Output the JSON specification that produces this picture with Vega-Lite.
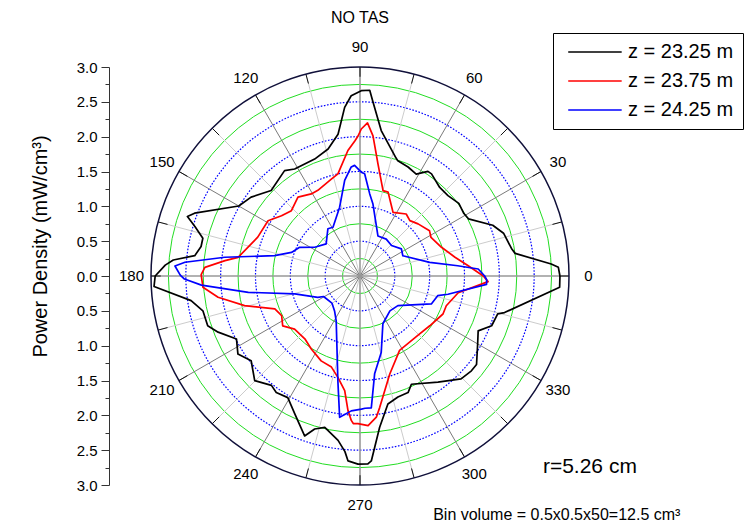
{
  "$schema": "https://vega.github.io/schema/vega-lite/v6.json",
  "width": 418,
  "height": 418,
  "autosize": {"type": "none"},
  "padding": {"left": 151, "top": 67, "right": 184, "bottom": 40},
  "background": "white",
  "config": {"view": {"stroke": null}, "font": "Liberation Sans"},
  "title": {"text": "NO TAS", "fontSize": 16, "fontWeight": "normal", "color": "#000", "font": "Liberation Sans", "anchor": "middle", "offset": 7},
  "resolve": {"axis": {"y": "independent", "x": "independent"}},
  "layer": [
    {
      "data": {"values": [{"r": 0.25}, {"r": 0.75}, {"r": 1.25}, {"r": 1.75}, {"r": 2.25}, {"r": 2.75}]},
      "mark": {"type": "point", "shape": "circle", "filled": false, "stroke": "#22dd22", "strokeWidth": 1, "opacity": 1},
      "encoding": {
        "x": {"datum": 0, "type": "quantitative", "scale": {"domain": [-3, 3], "nice": false, "zero": false}, "axis": null},
        "y": {"datum": 0, "type": "quantitative", "scale": {"domain": [-3, 3], "nice": false, "zero": false}, "axis": null},
        "size": {"field": "r", "type": "quantitative", "scale": {"type": "pow", "exponent": 2, "domain": [0, 3], "range": [0, 174724]}, "legend": null}
      }
    },
    {
      "data": {"values": [{"r": 0.5}, {"r": 1.0}, {"r": 1.5}, {"r": 2.0}, {"r": 2.5}]},
      "mark": {"type": "point", "shape": "circle", "filled": false, "stroke": "#0000ff", "strokeWidth": 1.2, "strokeDash": [1.6, 1.6], "opacity": 1},
      "encoding": {
        "x": {"datum": 0, "type": "quantitative", "scale": {"domain": [-3, 3], "nice": false, "zero": false}, "axis": null},
        "y": {"datum": 0, "type": "quantitative", "scale": {"domain": [-3, 3], "nice": false, "zero": false}, "axis": null},
        "size": {"field": "r", "type": "quantitative", "scale": {"type": "pow", "exponent": 2, "domain": [0, 3], "range": [0, 174724]}, "legend": null}
      }
    },
    {
      "data": {"values": [{"a": 15}, {"a": 45}, {"a": 75}, {"a": 105}, {"a": 135}, {"a": 165}, {"a": 195}, {"a": 225}, {"a": 255}, {"a": 285}, {"a": 315}, {"a": 345}]},
      "transform": [
        {"calculate": "0", "as": "x1"},
        {"calculate": "0", "as": "y1"},
        {"calculate": "3*cos(datum.a*PI/180)", "as": "x2"},
        {"calculate": "3*sin(datum.a*PI/180)", "as": "y2"}
      ],
      "mark": {"type": "rule", "stroke": "#cccccc", "strokeWidth": 1},
      "encoding": {
        "x": {"field": "x1", "type": "quantitative", "scale": {"domain": [-3, 3], "nice": false, "zero": false}, "axis": null},
        "y": {"field": "y1", "type": "quantitative", "scale": {"domain": [-3, 3], "nice": false, "zero": false}, "axis": null},
        "x2": {"field": "x2"},
        "y2": {"field": "y2"}
      }
    },
    {
      "data": {"values": [{"a": 30}, {"a": 60}, {"a": 120}, {"a": 150}, {"a": 210}, {"a": 240}, {"a": 300}, {"a": 330}]},
      "transform": [
        {"calculate": "0", "as": "x1"},
        {"calculate": "0", "as": "y1"},
        {"calculate": "3*cos(datum.a*PI/180)", "as": "x2"},
        {"calculate": "3*sin(datum.a*PI/180)", "as": "y2"}
      ],
      "mark": {"type": "rule", "stroke": "#7a7a7a", "strokeWidth": 1},
      "encoding": {
        "x": {"field": "x1", "type": "quantitative", "scale": {"domain": [-3, 3], "nice": false, "zero": false}, "axis": null},
        "y": {"field": "y1", "type": "quantitative", "scale": {"domain": [-3, 3], "nice": false, "zero": false}, "axis": null},
        "x2": {"field": "x2"},
        "y2": {"field": "y2"}
      }
    },
    {
      "data": {"values": [{"a": 0}, {"a": 90}, {"a": 180}, {"a": 270}]},
      "transform": [
        {"calculate": "0", "as": "x1"},
        {"calculate": "0", "as": "y1"},
        {"calculate": "3*cos(datum.a*PI/180)", "as": "x2"},
        {"calculate": "3*sin(datum.a*PI/180)", "as": "y2"}
      ],
      "mark": {"type": "rule", "stroke": "#999999", "strokeWidth": 1.6},
      "encoding": {
        "x": {"field": "x1", "type": "quantitative", "scale": {"domain": [-3, 3], "nice": false, "zero": false}, "axis": null},
        "y": {"field": "y1", "type": "quantitative", "scale": {"domain": [-3, 3], "nice": false, "zero": false}, "axis": null},
        "x2": {"field": "x2"},
        "y2": {"field": "y2"}
      }
    },
    {
      "data": {"values": [{"a": 0}, {"a": 15}, {"a": 30}, {"a": 45}, {"a": 60}, {"a": 75}, {"a": 90}, {"a": 105}, {"a": 120}, {"a": 135}, {"a": 150}, {"a": 165}, {"a": 180}, {"a": 195}, {"a": 210}, {"a": 225}, {"a": 240}, {"a": 255}, {"a": 270}, {"a": 285}, {"a": 300}, {"a": 315}, {"a": 330}, {"a": 345}]},
      "transform": [
        {"calculate": "2.86*cos(datum.a*PI/180)", "as": "x1"},
        {"calculate": "2.86*sin(datum.a*PI/180)", "as": "y1"},
        {"calculate": "3*cos(datum.a*PI/180)", "as": "x2"},
        {"calculate": "3*sin(datum.a*PI/180)", "as": "y2"}
      ],
      "mark": {"type": "rule", "stroke": "#111111", "strokeWidth": 1},
      "encoding": {
        "x": {"field": "x1", "type": "quantitative", "scale": {"domain": [-3, 3], "nice": false, "zero": false}, "axis": null},
        "y": {"field": "y1", "type": "quantitative", "scale": {"domain": [-3, 3], "nice": false, "zero": false}, "axis": null},
        "x2": {"field": "x2"},
        "y2": {"field": "y2"}
      }
    },
    {
      "data": {"values": [{"r": 3}]},
      "mark": {"type": "point", "shape": "circle", "filled": false, "stroke": "#10103a", "strokeWidth": 1.5, "opacity": 1},
      "encoding": {
        "x": {"datum": 0, "type": "quantitative", "scale": {"domain": [-3, 3], "nice": false, "zero": false}, "axis": null},
        "y": {"datum": 0, "type": "quantitative", "scale": {"domain": [-3, 3], "nice": false, "zero": false}, "axis": null},
        "size": {"field": "r", "type": "quantitative", "scale": {"type": "pow", "exponent": 2, "domain": [0, 3], "range": [0, 174724]}, "legend": null}
      }
    },
    {
      "data": {"values": [
        {"s": "z = 23.25 m", "a": 0, "r": 2.87}, {"s": "z = 23.25 m", "a": 2.5, "r": 2.85}, {"s": "z = 23.25 m", "a": 3.6, "r": 2.75}, {"s": "z = 23.25 m", "a": 8.3, "r": 2.25}, {"s": "z = 23.25 m", "a": 10.3, "r": 2.21}, {"s": "z = 23.25 m", "a": 16.6, "r": 2.15}, {"s": "z = 23.25 m", "a": 20.9, "r": 2.04}, {"s": "z = 23.25 m", "a": 27.8, "r": 1.76}, {"s": "z = 23.25 m", "a": 31, "r": 1.74}, {"s": "z = 23.25 m", "a": 36.3, "r": 1.76}, {"s": "z = 23.25 m", "a": 42.4, "r": 1.71}, {"s": "z = 23.25 m", "a": 48, "r": 1.71}, {"s": "z = 23.25 m", "a": 55, "r": 1.79}, {"s": "z = 23.25 m", "a": 57, "r": 1.79}, {"s": "z = 23.25 m", "a": 61.1, "r": 1.67}, {"s": "z = 23.25 m", "a": 66.2, "r": 1.71}, {"s": "z = 23.25 m", "a": 71.8, "r": 1.74}, {"s": "z = 23.25 m", "a": 73, "r": 1.77}, {"s": "z = 23.25 m", "a": 81.7, "r": 2.11}, {"s": "z = 23.25 m", "a": 85.7, "r": 2.50}, {"s": "z = 23.25 m", "a": 87, "r": 2.67}, {"s": "z = 23.25 m", "a": 89.6, "r": 2.66}, {"s": "z = 23.25 m", "a": 92.8, "r": 2.59}, {"s": "z = 23.25 m", "a": 95.2, "r": 2.43}, {"s": "z = 23.25 m", "a": 98.8, "r": 2.06}, {"s": "z = 23.25 m", "a": 104.1, "r": 1.88}, {"s": "z = 23.25 m", "a": 111.2, "r": 1.80}, {"s": "z = 23.25 m", "a": 121.4, "r": 1.80}, {"s": "z = 23.25 m", "a": 125.6, "r": 1.86}, {"s": "z = 23.25 m", "a": 136.1, "r": 1.77}, {"s": "z = 23.25 m", "a": 144.1, "r": 1.93}, {"s": "z = 23.25 m", "a": 150, "r": 2.01}, {"s": "z = 23.25 m", "a": 159.2, "r": 2.54}, {"s": "z = 23.25 m", "a": 161, "r": 2.62}, {"s": "z = 23.25 m", "a": 163.4, "r": 2.47}, {"s": "z = 23.25 m", "a": 166.5, "r": 2.32}, {"s": "z = 23.25 m", "a": 169.5, "r": 2.32}, {"s": "z = 23.25 m", "a": 173, "r": 2.39}, {"s": "z = 23.25 m", "a": 175.1, "r": 2.69}, {"s": "z = 23.25 m", "a": 176.8, "r": 2.80}, {"s": "z = 23.25 m", "a": 180, "r": 2.94}, {"s": "z = 23.25 m", "a": 182.9, "r": 2.96}, {"s": "z = 23.25 m", "a": 188.3, "r": 2.45}, {"s": "z = 23.25 m", "a": 192.5, "r": 2.31}, {"s": "z = 23.25 m", "a": 198.1, "r": 2.30}, {"s": "z = 23.25 m", "a": 201.6, "r": 2.19}, {"s": "z = 23.25 m", "a": 207, "r": 1.99}, {"s": "z = 23.25 m", "a": 212.6, "r": 2.08}, {"s": "z = 23.25 m", "a": 217.9, "r": 1.98}, {"s": "z = 23.25 m", "a": 224.8, "r": 2.13}, {"s": "z = 23.25 m", "a": 231, "r": 2.02}, {"s": "z = 23.25 m", "a": 234.3, "r": 2.06}, {"s": "z = 23.25 m", "a": 239.3, "r": 2.03}, {"s": "z = 23.25 m", "a": 244.7, "r": 2.19}, {"s": "z = 23.25 m", "a": 250.9, "r": 2.43}, {"s": "z = 23.25 m", "a": 253.5, "r": 2.29}, {"s": "z = 23.25 m", "a": 256.9, "r": 2.23}, {"s": "z = 23.25 m", "a": 262.4, "r": 2.38}, {"s": "z = 23.25 m", "a": 265.1, "r": 2.53}, {"s": "z = 23.25 m", "a": 266.3, "r": 2.66}, {"s": "z = 23.25 m", "a": 269.4, "r": 2.70}, {"s": "z = 23.25 m", "a": 272.4, "r": 2.70}, {"s": "z = 23.25 m", "a": 273.5, "r": 2.66}, {"s": "z = 23.25 m", "a": 277.4, "r": 2.19}, {"s": "z = 23.25 m", "a": 282.3, "r": 1.88}, {"s": "z = 23.25 m", "a": 287.4, "r": 1.82}, {"s": "z = 23.25 m", "a": 292.4, "r": 1.81}, {"s": "z = 23.25 m", "a": 295.4, "r": 1.72}, {"s": "z = 23.25 m", "a": 306.3, "r": 1.89}, {"s": "z = 23.25 m", "a": 314.5, "r": 2.07}, {"s": "z = 23.25 m", "a": 319.6, "r": 2.10}, {"s": "z = 23.25 m", "a": 322.8, "r": 2.10}, {"s": "z = 23.25 m", "a": 330, "r": 1.95}, {"s": "z = 23.25 m", "a": 335.1, "r": 1.87}, {"s": "z = 23.25 m", "a": 339.3, "r": 2.02}, {"s": "z = 23.25 m", "a": 344.6, "r": 2.05}, {"s": "z = 23.25 m", "a": 345.8, "r": 2.14}, {"s": "z = 23.25 m", "a": 356.8, "r": 2.87}, {"s": "z = 23.25 m", "a": 360, "r": 2.87},
        {"s": "z = 23.75 m", "a": 0, "r": 1.77}, {"s": "z = 23.75 m", "a": 5.4, "r": 1.56}, {"s": "z = 23.75 m", "a": 11.2, "r": 1.39}, {"s": "z = 23.75 m", "a": 19.4, "r": 1.24}, {"s": "z = 23.75 m", "a": 28.5, "r": 1.16}, {"s": "z = 23.75 m", "a": 33, "r": 1.19}, {"s": "z = 23.75 m", "a": 41.9, "r": 1.12}, {"s": "z = 23.75 m", "a": 48, "r": 1.07}, {"s": "z = 23.75 m", "a": 53.3, "r": 1.11}, {"s": "z = 23.75 m", "a": 62.6, "r": 1.03}, {"s": "z = 23.75 m", "a": 71.5, "r": 1.27}, {"s": "z = 23.75 m", "a": 74.9, "r": 1.27}, {"s": "z = 23.75 m", "a": 80.9, "r": 1.63}, {"s": "z = 23.75 m", "a": 84.7, "r": 2.02}, {"s": "z = 23.75 m", "a": 87.2, "r": 2.20}, {"s": "z = 23.75 m", "a": 89.5, "r": 2.11}, {"s": "z = 23.75 m", "a": 90.8, "r": 2.01}, {"s": "z = 23.75 m", "a": 92.2, "r": 1.94}, {"s": "z = 23.75 m", "a": 95.5, "r": 1.81}, {"s": "z = 23.75 m", "a": 102.2, "r": 1.50}, {"s": "z = 23.75 m", "a": 106.5, "r": 1.45}, {"s": "z = 23.75 m", "a": 116.2, "r": 1.37}, {"s": "z = 23.75 m", "a": 120.7, "r": 1.37}, {"s": "z = 23.75 m", "a": 128.2, "r": 1.44}, {"s": "z = 23.75 m", "a": 136.4, "r": 1.36}, {"s": "z = 23.75 m", "a": 142.5, "r": 1.42}, {"s": "z = 23.75 m", "a": 149, "r": 1.54}, {"s": "z = 23.75 m", "a": 159.2, "r": 1.57}, {"s": "z = 23.75 m", "a": 171.3, "r": 1.77}, {"s": "z = 23.75 m", "a": 173.5, "r": 1.95}, {"s": "z = 23.75 m", "a": 176.8, "r": 2.23}, {"s": "z = 23.75 m", "a": 179.5, "r": 2.28}, {"s": "z = 23.75 m", "a": 184.1, "r": 2.26}, {"s": "z = 23.75 m", "a": 188.5, "r": 2.06}, {"s": "z = 23.75 m", "a": 194.4, "r": 1.71}, {"s": "z = 23.75 m", "a": 201.1, "r": 1.31}, {"s": "z = 23.75 m", "a": 206.8, "r": 1.26}, {"s": "z = 23.75 m", "a": 212.8, "r": 1.32}, {"s": "z = 23.75 m", "a": 219.1, "r": 1.21}, {"s": "z = 23.75 m", "a": 228.7, "r": 1.20}, {"s": "z = 23.75 m", "a": 236.3, "r": 1.26}, {"s": "z = 23.75 m", "a": 245.4, "r": 1.34}, {"s": "z = 23.75 m", "a": 252.6, "r": 1.37}, {"s": "z = 23.75 m", "a": 257.7, "r": 1.49}, {"s": "z = 23.75 m", "a": 262.4, "r": 1.66}, {"s": "z = 23.75 m", "a": 264.9, "r": 1.94}, {"s": "z = 23.75 m", "a": 266.6, "r": 2.08}, {"s": "z = 23.75 m", "a": 267.4, "r": 2.12}, {"s": "z = 23.75 m", "a": 269.2, "r": 2.12}, {"s": "z = 23.75 m", "a": 273.1, "r": 2.15}, {"s": "z = 23.75 m", "a": 276.6, "r": 2.04}, {"s": "z = 23.75 m", "a": 278.5, "r": 1.91}, {"s": "z = 23.75 m", "a": 286.9, "r": 1.47}, {"s": "z = 23.75 m", "a": 298, "r": 1.21}, {"s": "z = 23.75 m", "a": 314.2, "r": 1.19}, {"s": "z = 23.75 m", "a": 324.5, "r": 1.23}, {"s": "z = 23.75 m", "a": 335.4, "r": 1.31}, {"s": "z = 23.75 m", "a": 341, "r": 1.31}, {"s": "z = 23.75 m", "a": 350.3, "r": 1.43}, {"s": "z = 23.75 m", "a": 357.5, "r": 1.84}, {"s": "z = 23.75 m", "a": 360, "r": 1.77},
        {"s": "z = 24.25 m", "a": 0, "r": 1.79}, {"s": "z = 24.25 m", "a": 3.4, "r": 1.70}, {"s": "z = 24.25 m", "a": 6, "r": 1.41}, {"s": "z = 24.25 m", "a": 11.1, "r": 1.02}, {"s": "z = 24.25 m", "a": 25.3, "r": 0.68}, {"s": "z = 24.25 m", "a": 33.2, "r": 0.71}, {"s": "z = 24.25 m", "a": 44.1, "r": 0.63}, {"s": "z = 24.25 m", "a": 54.6, "r": 0.65}, {"s": "z = 24.25 m", "a": 65.9, "r": 0.63}, {"s": "z = 24.25 m", "a": 79.8, "r": 1.05}, {"s": "z = 24.25 m", "a": 83.3, "r": 1.19}, {"s": "z = 24.25 m", "a": 87.4, "r": 1.47}, {"s": "z = 24.25 m", "a": 89.3, "r": 1.49}, {"s": "z = 24.25 m", "a": 92.8, "r": 1.59}, {"s": "z = 24.25 m", "a": 94.6, "r": 1.57}, {"s": "z = 24.25 m", "a": 99.1, "r": 1.39}, {"s": "z = 24.25 m", "a": 106.5, "r": 1.03}, {"s": "z = 24.25 m", "a": 119, "r": 0.80}, {"s": "z = 24.25 m", "a": 124.2, "r": 0.82}, {"s": "z = 24.25 m", "a": 136.5, "r": 0.67}, {"s": "z = 24.25 m", "a": 147.6, "r": 0.77}, {"s": "z = 24.25 m", "a": 154.6, "r": 0.96}, {"s": "z = 24.25 m", "a": 161, "r": 1.04}, {"s": "z = 24.25 m", "a": 166.6, "r": 1.26}, {"s": "z = 24.25 m", "a": 172.1, "r": 1.96}, {"s": "z = 24.25 m", "a": 175.5, "r": 2.52}, {"s": "z = 24.25 m", "a": 176.9, "r": 2.66}, {"s": "z = 24.25 m", "a": 179.7, "r": 2.58}, {"s": "z = 24.25 m", "a": 181, "r": 2.52}, {"s": "z = 24.25 m", "a": 183.3, "r": 2.28}, {"s": "z = 24.25 m", "a": 188.3, "r": 1.62}, {"s": "z = 24.25 m", "a": 195.4, "r": 0.97}, {"s": "z = 24.25 m", "a": 206.9, "r": 0.68}, {"s": "z = 24.25 m", "a": 209.4, "r": 0.60}, {"s": "z = 24.25 m", "a": 224, "r": 0.56}, {"s": "z = 24.25 m", "a": 233.9, "r": 0.62}, {"s": "z = 24.25 m", "a": 242.1, "r": 0.73}, {"s": "z = 24.25 m", "a": 258.1, "r": 1.54}, {"s": "z = 24.25 m", "a": 261.8, "r": 2.05}, {"s": "z = 24.25 m", "a": 266.3, "r": 1.94}, {"s": "z = 24.25 m", "a": 270.6, "r": 1.91}, {"s": "z = 24.25 m", "a": 272.2, "r": 1.90}, {"s": "z = 24.25 m", "a": 274.9, "r": 1.90}, {"s": "z = 24.25 m", "a": 278.5, "r": 1.42}, {"s": "z = 24.25 m", "a": 285.5, "r": 1.14}, {"s": "z = 24.25 m", "a": 295.6, "r": 0.76}, {"s": "z = 24.25 m", "a": 310.6, "r": 0.66}, {"s": "z = 24.25 m", "a": 322, "r": 0.69}, {"s": "z = 24.25 m", "a": 338.6, "r": 1.10}, {"s": "z = 24.25 m", "a": 345.8, "r": 1.15}, {"s": "z = 24.25 m", "a": 348.3, "r": 1.29}, {"s": "z = 24.25 m", "a": 356.2, "r": 1.82}, {"s": "z = 24.25 m", "a": 358.2, "r": 1.82}, {"s": "z = 24.25 m", "a": 360, "r": 1.79}
      ]},
      "transform": [
        {"calculate": "datum.r*cos(datum.a*PI/180)", "as": "x"},
        {"calculate": "datum.r*sin(datum.a*PI/180)", "as": "y"}
      ],
      "mark": {"type": "line", "strokeWidth": 1.7, "strokeJoin": "round"},
      "encoding": {
        "x": {"field": "x", "type": "quantitative", "scale": {"domain": [-3, 3], "nice": false, "zero": false}, "axis": null},
        "y": {"field": "y", "type": "quantitative", "scale": {"domain": [-3, 3], "nice": false, "zero": false},
          "axis": {
            "orient": "left", "offset": 42, "grid": false,
            "values": [-3, -2.75, -2.5, -2.25, -2, -1.75, -1.5, -1.25, -1, -0.75, -0.5, -0.25, 0, 0.25, 0.5, 0.75, 1, 1.25, 1.5, 1.75, 2, 2.25, 2.5, 2.75, 3],
            "labelExpr": "abs(datum.value*2 - round(datum.value*2)) > 0.01 ? '' : format(abs(datum.value), '.1f')",
            "tickSize": {"condition": {"test": "abs(datum.value*2 - round(datum.value*2)) > 0.01", "value": 4}, "value": 8},
            "tickColor": "#333333", "tickWidth": 1, "domainColor": "#333333", "domainWidth": 1,
            "labelFontSize": 15, "labelFont": "Liberation Sans", "labelColor": "#000000", "labelPadding": 4,
            "labelOverlap": false, "labelFlush": false, "labelBound": false,
            "title": "Power Density (mW/cm³)", "titleFontSize": 20, "titleFont": "Liberation Sans", "titleFontWeight": "normal", "titleColor": "#000000",
            "titlePadding": 26, "titleY": 179
          }
        },
        "order": {"field": "a", "type": "quantitative"},
        "color": {"field": "s", "type": "nominal",
          "scale": {"domain": ["z = 23.25 m", "z = 23.75 m", "z = 24.25 m"], "range": ["#000000", "#ff0000", "#0000ff"]},
          "legend": {
            "orient": "none", "legendX": 402, "legendY": -34, "title": null,
            "strokeColor": "#000000", "fillColor": "#ffffff", "padding": 9,
            "symbolType": "M-0.42,0H5.52", "symbolSize": 324, "symbolStrokeWidth": 1.5,
            "labelFontSize": 20, "labelFont": "Liberation Sans", "labelColor": "#000000", "labelOffset": 46,
            "rowPadding": 9
          }
        }
      }
    },
    {
      "data": {"values": [{"a": 0, "t": "0"}, {"a": 30, "t": "30"}, {"a": 60, "t": "60"}, {"a": 90, "t": "90"}, {"a": 120, "t": "120"}, {"a": 150, "t": "150"}, {"a": 180, "t": "180"}, {"a": 210, "t": "210"}, {"a": 240, "t": "240"}, {"a": 270, "t": "270"}, {"a": 300, "t": "300"}, {"a": 330, "t": "330"}]},
      "transform": [
        {"calculate": "3.28*cos(datum.a*PI/180)", "as": "x"},
        {"calculate": "3.28*sin(datum.a*PI/180)", "as": "y"}
      ],
      "mark": {"type": "text", "fontSize": 15, "font": "Liberation Sans", "color": "#000000", "align": "center", "baseline": "middle"},
      "encoding": {
        "x": {"field": "x", "type": "quantitative", "scale": {"domain": [-3, 3], "nice": false, "zero": false}, "axis": null},
        "y": {"field": "y", "type": "quantitative", "scale": {"domain": [-3, 3], "nice": false, "zero": false}, "axis": null},
        "text": {"field": "t", "type": "nominal"}
      }
    },
    {
      "data": {"values": [{"t": "r=5.26 cm"}]},
      "mark": {"type": "text", "fontSize": 21, "font": "Liberation Sans", "color": "#000000", "align": "center", "baseline": "alphabetic"},
      "encoding": {
        "x": {"datum": 3.3, "type": "quantitative", "scale": {"domain": [-3, 3], "nice": false, "zero": false}, "axis": null},
        "y": {"datum": -2.83, "type": "quantitative", "scale": {"domain": [-3, 3], "nice": false, "zero": false}, "axis": null},
        "text": {"field": "t", "type": "nominal"}
      }
    },
    {
      "data": {"values": [{"t": "Bin volume = 0.5x0.5x50=12.5 cm³"}]},
      "mark": {"type": "text", "fontSize": 16, "font": "Liberation Sans", "color": "#000000", "align": "left", "baseline": "alphabetic"},
      "encoding": {
        "x": {"datum": 1.05, "type": "quantitative", "scale": {"domain": [-3, 3], "nice": false, "zero": false}, "axis": null},
        "y": {"datum": -3.5, "type": "quantitative", "scale": {"domain": [-3, 3], "nice": false, "zero": false}, "axis": null},
        "text": {"field": "t", "type": "nominal"}
      }
    }
  ]
}
